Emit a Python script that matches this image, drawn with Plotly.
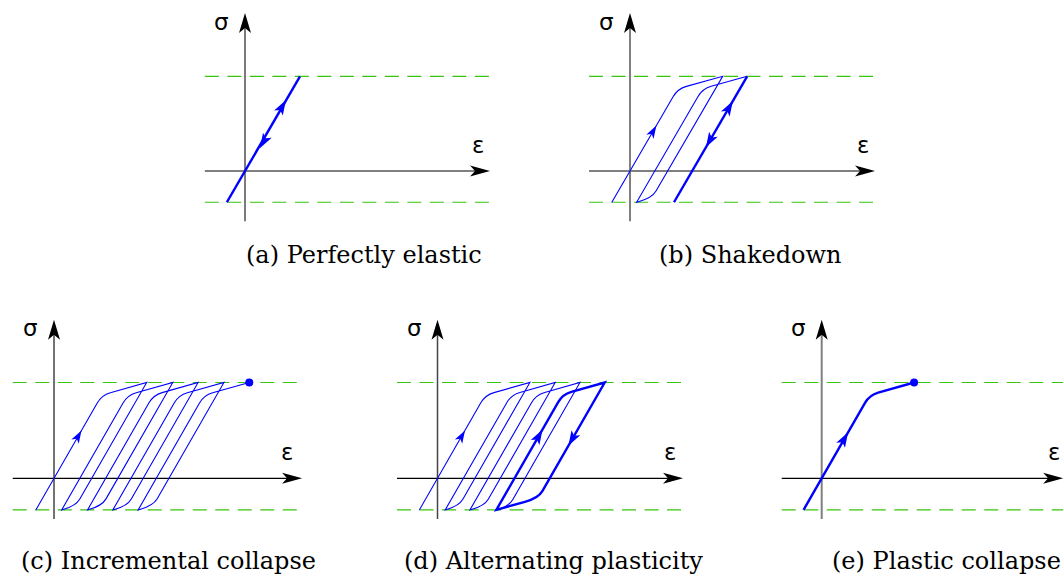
import math
import plotly.graph_objects as go

W_PX, H_PX = 1064, 576
SX = 55.0  # px per strain unit

# ---------------- data (normalised: sigma / yield stress, strain / yield strain) ----------
SIG_TOP = 1.0
SIG_BOT = -0.33

# (a) Perfectly elastic
A_EPS = [-0.33, 1.0]
A_SIG = [-0.33, 1.0]
A_ARR_EPS = [0.745, 0.27]
A_ARR_SIG = [0.75, 0.24]
A_ARR_DIR = [1, -1]

# (b) Shakedown
B_THIN_EPS = [-0.33, 0.868, 1.685, 0.400, 0.12, 1.319, 2.13]
B_THIN_SIG = [-0.33, 0.868, 1.0, -0.285, -0.33, 0.869, 1.0]
B_THICK_EPS = [2.13, 0.80]
B_THICK_SIG = [1.0, -0.33]
B_ARR_EPS = [0.48, 1.87, 1.38]
B_ARR_SIG = [0.48, 0.74, 0.25]
B_ARR_DIR = [1, 1, -1]
B_ARR_THICK = [False, True, True]

# (c) Incremental collapse
C_EPS = [-0.33, 0.868, 1.685, 0.397, 0.14, 1.337, 2.16, 0.873, 0.61, 1.809, 2.62,
         1.333, 1.07, 2.267, 3.09, 1.804, 1.53, 2.727, 3.55]
C_SIG = [-0.33, 0.868, 1.0, -0.289, -0.33, 0.867, 1.0, -0.287, -0.33, 0.869, 1.0,
         -0.288, -0.33, 0.867, 1.0, -0.286, -0.33, 0.867, 1.0]
C_END_EPS = [3.55]
C_END_SIG = [1.0]
C_ARR_EPS = [0.50]
C_ARR_SIG = [0.50]
C_ARR_DIR = [1]

# (d) Alternating plasticity
D_THIN_EPS = [-0.33, 0.869, 1.68, 0.391, 0.14, 1.341, 2.14, 0.853, 0.59, 1.791, 2.59, 1.297, 1.07]
D_THIN_SIG = [-0.33, 0.869, 1.0, -0.289, -0.33, 0.871, 1.0, -0.288, -0.33, 0.871, 1.0, -0.293, -0.33]
D_THICK_EPS = [1.07, 2.276, 3.04, 1.834, 1.07]
D_THICK_SIG = [-0.33, 0.876, 1.0, -0.206, -0.33]
D_ARR_EPS = [0.50, 1.91, 2.38]
D_ARR_SIG = [0.50, 0.51, 0.34]
D_ARR_DIR = [1, 1, -1]
D_ARR_THICK = [False, True, True]

# (e) Plastic collapse
E_EPS = [-0.33, 0.869, 1.68]
E_SIG = [-0.33, 0.869, 1.0]
E_END_EPS = [1.68]
E_END_SIG = [1.0]
E_ARR_EPS = [0.48]
E_ARR_SIG = [0.48]
E_ARR_DIR = [1]

CAPTIONS = ["(a) Perfectly elastic", "(b) Shakedown", "(c) Incremental collapse",
            "(d) Alternating plasticity", "(e) Plastic collapse"]
SIGMA_LABEL = "σ"
EPS_LABEL = "ε"

# ---------------- layout / style ----------------
BLUE = "#0000ff"
GREEN = "rgb(55,195,15)"
THIN_W = 1.1
THICK_W = 2.4
R_TOP = 9.0
R_BOT_EL = 8.0
R_BOT_PL = 14.0

PANELS = [
    dict(ox=245.0, oy=171.0, sy=94.7, xr=(-0.73, 4.455), yr=(-0.53, 1.668), ycol="#333333", yw=1.3,
         cap=(364.0, 255.0)),
    dict(ox=630.0, oy=171.0, sy=94.7, xr=(-0.745, 4.455), yr=(-0.53, 1.668), ycol="#7f7f7f", yw=2.0,
         cap=(749.5, 255.0)),
    dict(ox=54.0, oy=478.3, sy=95.8, xr=(-0.75, 4.51), yr=(-0.425, 1.655), ycol="#444444", yw=1.5,
         cap=(168.3, 561.0)),
    dict(ox=437.5, oy=478.3, sy=95.8, xr=(-0.736, 4.464), yr=(-0.425, 1.655), ycol="#444444", yw=1.5,
         cap=(553.3, 561.0)),
    dict(ox=821.7, oy=478.3, sy=95.8, xr=(-0.727, 4.39), yr=(-0.425, 1.655), ycol="#7f7f7f", yw=2.0,
         cap=(946.0, 561.0)),
]


def fmt(e, s):
    return f"{e:.5f},{s:.5f}"


def knee_path(eps, sig, sx, sy, closed=False):
    pts = list(zip(eps, sig))
    if closed and pts[0] == pts[-1]:
        pts = pts[:-1]
    n = len(pts)
    cmds = []
    for i, (e, s) in enumerate(pts):
        is_end = (not closed) and (i == 0 or i == n - 1)
        knee = (not is_end) and (SIG_BOT + 1e-9 < s < SIG_TOP - 1e-9)
        lead = "M" if i == 0 else "L"
        if not knee:
            cmds.append(lead + fmt(e, s))
            continue
        pe, ps = pts[i - 1]
        ne, ns = pts[(i + 1) % n]
        l1 = math.hypot((pe - e) * sx, (ps - s) * sy)
        l2 = math.hypot((ne - e) * sx, (ns - s) * sy)
        if s > 0:
            d1, d2 = min(R_TOP, 0.45 * l1), min(R_TOP, 0.45 * l2)
        else:
            d1, d2 = min(R_BOT_EL, 0.45 * l1), min(R_BOT_PL, 0.9 * l2)
        a = (e + (pe - e) * d1 / l1, s + (ps - s) * d1 / l1)
        b = (e + (ne - e) * d2 / l2, s + (ns - s) * d2 / l2)
        cmds.append(lead + fmt(*a) + " Q" + fmt(e, s) + " " + fmt(*b))
    if closed:
        cmds.append("Z")
    return " ".join(cmds)


def stealth(tip_e, tip_s, de, ds, sx, sy, L, W, notch):
    dx, dy = de * sx, ds * sy
    n = math.hypot(dx, dy)
    ux, uy = dx / n, dy / n
    vx, vy = -uy, ux
    px_pts = [(0, 0),
              (-L * ux + W / 2 * vx, -L * uy + W / 2 * vy),
              (-(L - notch) * ux, -(L - notch) * uy),
              (-L * ux - W / 2 * vx, -L * uy - W / 2 * vy)]
    pts = [(tip_e + x / sx, tip_s + y / sy) for x, y in px_pts]
    return "M" + " L".join(fmt(e, s) for e, s in pts) + " Z"


fig = go.Figure()
shapes = []
annotations = []
layout_axes = {}

for k, p in enumerate(PANELS):
    idx = "" if k == 0 else str(k + 1)
    xa, ya = "x" + idx, "y" + idx
    sy = p["sy"]
    layout_axes["xaxis" + idx] = dict(range=[-p["ox"] / SX, (W_PX - p["ox"]) / SX], domain=[0, 1],
                                      visible=False, fixedrange=True,
                                      **({} if k == 0 else dict(overlaying="x")))
    layout_axes["yaxis" + idx] = dict(range=[-(H_PX - p["oy"]) / sy, p["oy"] / sy], domain=[0, 1],
                                      visible=False, fixedrange=True,
                                      **({} if k == 0 else dict(overlaying="y")))
    x0, x1 = p["xr"]
    y0, y1 = p["yr"]
    # dashed yield lines
    fig.add_trace(go.Scatter(x=[x0, x1, None, x0, x1], y=[SIG_TOP, SIG_TOP, None, SIG_BOT, SIG_BOT],
                             mode="lines", line=dict(color=GREEN, width=1.2, dash="14px,8.5px"),
                             xaxis=xa, yaxis=ya, showlegend=False, hoverinfo="skip"))
    # axes
    fig.add_trace(go.Scatter(x=[x0, x1 - 14 / SX], y=[0, 0], mode="lines",
                             line=dict(color="black", width=1.2),
                             xaxis=xa, yaxis=ya, showlegend=False, hoverinfo="skip"))
    fig.add_trace(go.Scatter(x=[0, 0], y=[y0, y1 - 14 / sy], mode="lines",
                             line=dict(color=p["ycol"], width=p["yw"]),
                             xaxis=xa, yaxis=ya, showlegend=False, hoverinfo="skip"))
    shapes.append(dict(type="path", path=stealth(x1, 0, 1, 0, SX, sy, 20, 11, 5), xref=xa, yref=ya,
                       fillcolor="black", line=dict(width=0)))
    shapes.append(dict(type="path", path=stealth(0, y1, 0, 1, SX, sy, 20, 12, 5), xref=xa, yref=ya,
                       fillcolor="black", line=dict(width=0)))
    # axis labels
    annotations.append(dict(x=-0.42, y=1.57, xref=xa, yref=ya, text=SIGMA_LABEL, showarrow=False,
                            font=dict(family="DejaVu Sans", size=23, color="black"),
                            xanchor="center", yanchor="middle"))
    annotations.append(dict(x=4.23, y=0.27, xref=xa, yref=ya, text=EPS_LABEL, showarrow=False,
                            font=dict(family="DejaVu Sans", size=23, color="black"),
                            xanchor="center", yanchor="middle"))
    annotations.append(dict(x=p["cap"][0] / W_PX, y=1 - p["cap"][1] / H_PX, xref="paper", yref="paper",
                            text=CAPTIONS[k], showarrow=False,
                            font=dict(family="DejaVu Serif", size=24, color="black"),
                            xanchor="center", yanchor="middle"))


def add_curve(k, eps, sig, width, closed=False):
    idx = "" if k == 0 else str(k + 1)
    sy = PANELS[k]["sy"]
    shapes.append(dict(type="path", path=knee_path(eps, sig, SX, sy, closed), xref="x" + idx,
                       yref="y" + idx, line=dict(color=BLUE, width=width)))


def add_arrows(k, eps, sig, dirs, thick):
    idx = "" if k == 0 else str(k + 1)
    sy = PANELS[k]["sy"]
    for e, s, d, t in zip(eps, sig, dirs, thick):
        L, W = (15, 10) if t else (13, 8.5)
        shapes.append(dict(type="path", path=stealth(e, s, d, d, SX, sy, L, W, 3.5), xref="x" + idx,
                           yref="y" + idx, fillcolor=BLUE, line=dict(width=0)))


def add_dot(k, eps, sig):
    idx = "" if k == 0 else str(k + 1)
    fig.add_trace(go.Scatter(x=eps, y=sig, mode="markers", marker=dict(color=BLUE, size=8),
                             xaxis="x" + idx, yaxis="y" + idx, showlegend=False, hoverinfo="skip"))


# (a)
add_curve(0, A_EPS, A_SIG, THICK_W)
add_arrows(0, A_ARR_EPS, A_ARR_SIG, A_ARR_DIR, [True, True])
# (b)
add_curve(1, B_THIN_EPS, B_THIN_SIG, THIN_W)
add_curve(1, B_THICK_EPS, B_THICK_SIG, THICK_W)
add_arrows(1, B_ARR_EPS, B_ARR_SIG, B_ARR_DIR, B_ARR_THICK)
# (c)
add_curve(2, C_EPS, C_SIG, THIN_W)
add_arrows(2, C_ARR_EPS, C_ARR_SIG, C_ARR_DIR, [False])
add_dot(2, C_END_EPS, C_END_SIG)
# (d)
add_curve(3, D_THIN_EPS, D_THIN_SIG, THIN_W)
add_curve(3, D_THICK_EPS, D_THICK_SIG, THICK_W, closed=True)
add_arrows(3, D_ARR_EPS, D_ARR_SIG, D_ARR_DIR, D_ARR_THICK)
# (e)
add_curve(4, E_EPS, E_SIG, THICK_W)
add_arrows(4, E_ARR_EPS, E_ARR_SIG, E_ARR_DIR, [True])
add_dot(4, E_END_EPS, E_END_SIG)

fig.update_layout(width=W_PX, height=H_PX, autosize=False, margin=dict(l=0, r=0, t=0, b=0, pad=0),
                  paper_bgcolor="white", plot_bgcolor="white", shapes=shapes, annotations=annotations,
                  showlegend=False, **layout_axes)

fig.write_html("out.html", config=dict(displayModeBar=False, staticPlot=True))
